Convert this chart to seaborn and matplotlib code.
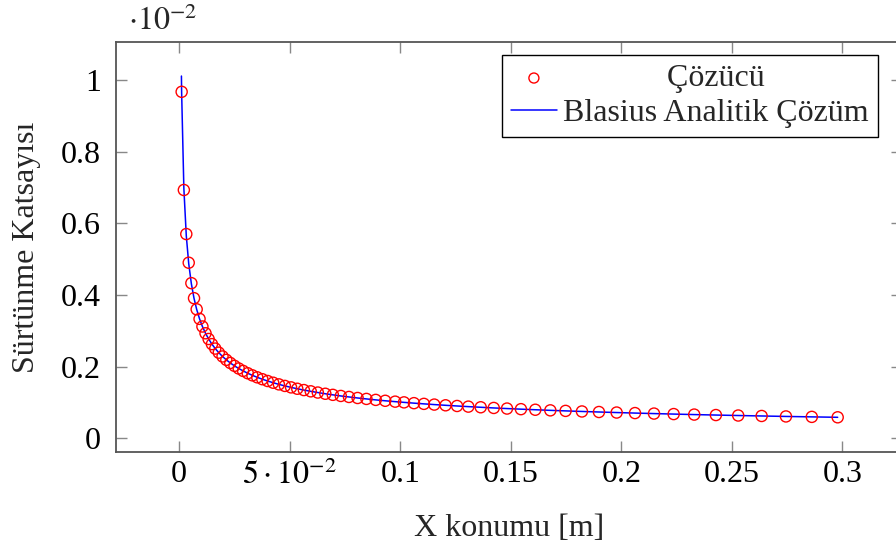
import matplotlib
matplotlib.use("Agg")
import matplotlib.pyplot as plt
import seaborn as sns
import pandas as pd

# ---- data (skin-friction coefficient, in units of 1e-2) ----
x_solver = [0.0011, 0.0021, 0.0032, 0.0043, 0.0055, 0.0067, 0.0079, 0.0092, 0.0105, 0.0119,
            0.0133, 0.0148, 0.0163, 0.0179, 0.0196, 0.0213, 0.0231, 0.0250, 0.0269, 0.0289,
            0.0310, 0.0331, 0.0353, 0.0376, 0.0400, 0.0425, 0.0451, 0.0478, 0.0506, 0.0534,
            0.0564, 0.0595, 0.0627, 0.0661, 0.0695, 0.0731, 0.0768, 0.0807, 0.0847, 0.0889,
            0.0932, 0.0977, 0.1017, 0.1062, 0.1107, 0.1154, 0.1205, 0.1257, 0.1308, 0.1364,
            0.1423, 0.1483, 0.1546, 0.1611, 0.1679, 0.1748, 0.1822, 0.1899, 0.1979, 0.2062,
            0.2148, 0.2237, 0.2330, 0.2428, 0.2529, 0.2635, 0.2745, 0.2862, 0.2979]
cf_solver = [0.967, 0.693, 0.570, 0.490, 0.433, 0.391, 0.360, 0.3333, 0.3120, 0.2931,
             0.2772, 0.2628, 0.2504, 0.2390, 0.2284, 0.2190, 0.2103, 0.2022, 0.1949, 0.1881,
             0.1816, 0.1757, 0.1702, 0.1649, 0.1599, 0.1551, 0.1505, 0.1462, 0.1421, 0.1383,
             0.1346, 0.1311, 0.1277, 0.1243, 0.1213, 0.1182, 0.1154, 0.1125, 0.1099, 0.1072,
             0.1047, 0.1023, 0.1003, 0.0981, 0.0961, 0.0941, 0.0921, 0.0902, 0.0884, 0.0866,
             0.0847, 0.0830, 0.0813, 0.0797, 0.0780, 0.0765, 0.0749, 0.0734, 0.0719, 0.0704,
             0.0690, 0.0676, 0.0662, 0.0649, 0.0636, 0.0623, 0.0610, 0.0598, 0.0586]
x_blasius = [0.0010, 0.0011, 0.0021, 0.0032, 0.0043, 0.0055, 0.0067, 0.0079, 0.0092, 0.0105,
             0.0119, 0.0133, 0.0148, 0.0163, 0.0179, 0.0196, 0.0213, 0.0231, 0.0250, 0.0269,
             0.0289, 0.0310, 0.0331, 0.0353, 0.0376, 0.0400, 0.0425, 0.0451, 0.0478, 0.0506,
             0.0534, 0.0564, 0.0595, 0.0627, 0.0661, 0.0695, 0.0731, 0.0768, 0.0807, 0.0847,
             0.0889, 0.0932, 0.0977, 0.1017, 0.1062, 0.1107, 0.1154, 0.1205, 0.1257, 0.1308,
             0.1364, 0.1423, 0.1483, 0.1546, 0.1611, 0.1679, 0.1748, 0.1822, 0.1899, 0.1979,
             0.2062, 0.2148, 0.2237, 0.2330, 0.2428, 0.2529, 0.2635, 0.2745, 0.2862, 0.2979]
cf_blasius = [1.011, 0.9639, 0.6976, 0.5651, 0.4876, 0.4311, 0.3906, 0.3597, 0.3333, 0.3120,
              0.2931, 0.2772, 0.2628, 0.2504, 0.2390, 0.2284, 0.2190, 0.2103, 0.2022, 0.1949,
              0.1881, 0.1816, 0.1757, 0.1702, 0.1649, 0.1599, 0.1551, 0.1505, 0.1462, 0.1421,
              0.1383, 0.1346, 0.1311, 0.1277, 0.1243, 0.1213, 0.1182, 0.1154, 0.1125, 0.1099,
              0.1072, 0.1047, 0.1023, 0.1003, 0.0981, 0.0961, 0.0941, 0.0921, 0.0902, 0.0884,
              0.0866, 0.0847, 0.0830, 0.0813, 0.0797, 0.0780, 0.0765, 0.0749, 0.0734, 0.0719,
              0.0704, 0.0690, 0.0676, 0.0662, 0.0649, 0.0636, 0.0623, 0.0610, 0.0598, 0.0586]

x_ticks = [0, 0.05, 0.1, 0.15, 0.2, 0.25, 0.3]
x_ticklabels = ["0", r"$5\cdot10^{-2}$", "0.1", "0.15", "0.2", "0.25", "0.3"]
y_ticks = [0, 0.2, 0.4, 0.6, 0.8, 1.0]
y_ticklabels = ["0", "0.2", "0.4", "0.6", "0.8", "1"]
scale_label = r"$\cdot10^{-2}$"
legend_labels = ["Çözücü", "Blasius Analitik Çözüm"]
x_title = "X konumu [m]"
y_title = "Sürtünme Katsayısı"

sns.set_style("ticks")
plt.rcParams["font.family"] = ["Liberation Serif", "DejaVu Serif"]
plt.rcParams["mathtext.fontset"] = "stix"

FS = 23

fig = plt.figure(figsize=(8.96, 5.51), dpi=100)
W, H = 896, 551
left, right, top, bottom = 116, 902, 42, 451.7
ax = fig.add_axes([left / W, 1 - bottom / H, (right - left) / W, (bottom - top) / H])

df_s = pd.DataFrame({"x": x_solver, "cf": cf_solver})
df_b = pd.DataFrame({"x": x_blasius, "cf": cf_blasius})

sns.lineplot(data=df_b, x="x", y="cf", ax=ax, color="#0000ff", linewidth=1.1,
             label=legend_labels[1], zorder=2, sort=False)
sns.scatterplot(data=df_s, x="x", y="cf", ax=ax, marker="o", s=64,
                facecolors="none", edgecolor="#ff0000", linewidth=1.0,
                label=legend_labels[0], zorder=3)

ax.set_xlim(-0.0286, 0.3270)
ax.set_ylim(-0.0374, 1.106)
ax.set_xticks(x_ticks)
ax.set_xticklabels(x_ticklabels)
ax.set_yticks(y_ticks)
ax.set_yticklabels(y_ticklabels)
ax.tick_params(axis="both", direction="in", length=8, width=1, color="#888888",
               labelsize=FS, labelcolor="black", top=True, right=True)
ax.tick_params(axis="x", pad=6)
ax.tick_params(axis="y", pad=11)
for s in ax.spines.values():
    s.set_color("#555555")
    s.set_linewidth(1.3)

ax.set_xlabel(x_title, fontsize=FS, labelpad=17)
ax.set_ylabel(y_title, fontsize=FS, labelpad=14)

# legend: solver first, then Blasius
handles, labels = ax.get_legend_handles_labels()
order = [labels.index(legend_labels[0]), labels.index(legend_labels[1])]
hs = [handles[i] for i in order]
labs = ["\u00a0" * 13 + legend_labels[0], legend_labels[1]]
leg = ax.legend(hs, labs, loc="upper right", bbox_to_anchor=(0.9695, 0.968),
                borderaxespad=0, fontsize=FS, frameon=True, fancybox=False,
                framealpha=1, edgecolor="black", handlelength=1.45,
                handletextpad=0.2, labelspacing=0.16, borderpad=0.28,
                markerscale=0.9)
leg.get_frame().set_linewidth(1.0)

fig.text(128 / W, 1 - 30 / H, scale_label, fontsize=FS, ha="left", va="baseline")

fig.savefig("out.png", dpi=100)
